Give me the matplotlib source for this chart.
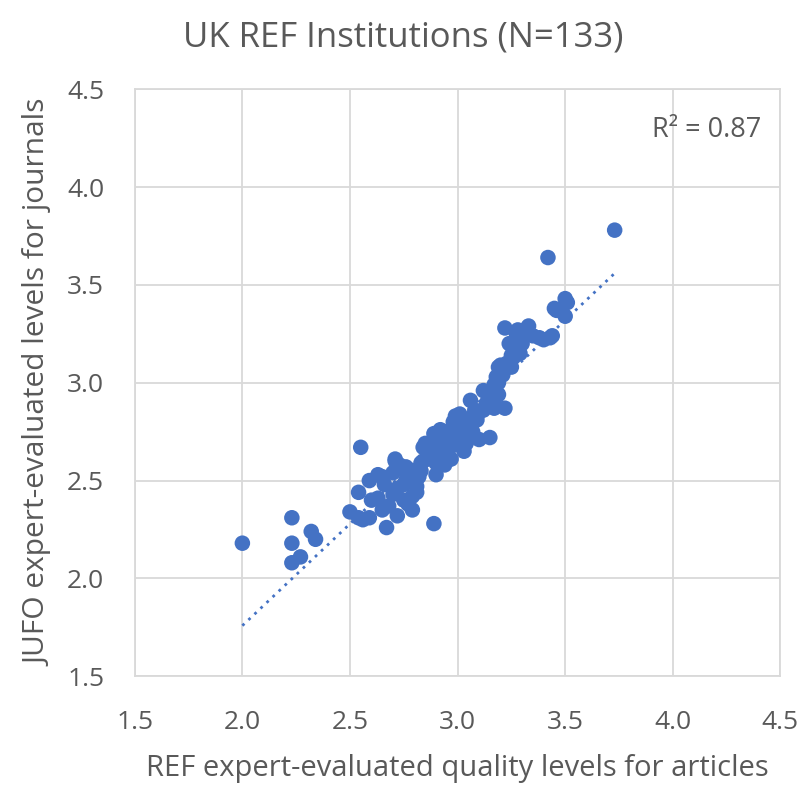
#!/usr/bin/env python3
"""Scatter of REF vs JUFO expert-evaluated levels for UK institutions."""

import numpy as np
import matplotlib
matplotlib.use("Agg")
import matplotlib.pyplot as plt

# REF expert-evaluated quality levels for articles
ref_levels = [
    2.00, 2.23, 2.23, 2.23, 2.27, 2.32, 2.34, 2.55, 2.54, 2.50,
    2.54, 2.56, 2.59, 2.59, 2.63, 2.65, 2.67, 2.65, 2.70, 2.71,
    2.73, 2.72, 2.68, 2.72, 2.77, 2.79, 2.76, 2.81, 2.79, 2.83,
    2.84, 2.87, 2.90, 2.89, 2.93, 2.89, 2.71, 2.76, 2.78, 2.81,
    2.81, 2.83, 2.85, 2.90, 2.91, 2.92, 2.95, 2.97, 2.97, 3.00,
    2.99, 3.02, 3.06, 3.04, 3.07, 3.10, 3.09, 3.12, 3.15, 3.17,
    3.19, 3.17, 3.22, 3.21, 3.19, 3.23, 3.25, 3.28, 3.22, 3.28,
    3.33, 3.35, 3.38, 3.43, 3.42, 3.45, 3.50, 3.50, 3.73, 3.01,
    2.98, 3.06, 2.95, 3.03, 2.92, 2.98, 2.85, 2.89, 2.95, 3.03,
    2.86, 3.15, 3.19, 3.21, 3.24, 3.17, 3.27, 3.46, 3.51, 3.30,
    3.29, 3.26, 3.25, 3.21, 3.20, 3.18, 3.14, 3.09, 3.06, 3.04,
    2.94, 2.96, 2.74, 2.78, 2.82, 3.40, 3.44, 2.63, 2.66, 2.70,
    2.75, 2.80, 2.84, 2.90, 2.93, 2.60, 2.75, 3.12, 3.24, 3.27,
    3.31, 3.13, 3.08,
]

# JUFO expert-evaluated levels for journals
jufo_levels = [
    2.18, 2.31, 2.18, 2.08, 2.11, 2.24, 2.20, 2.67, 2.44, 2.34,
    2.31, 2.30, 2.31, 2.50, 2.41, 2.35, 2.26, 2.52, 2.54, 2.61,
    2.58, 2.46, 2.37, 2.32, 2.38, 2.35, 2.50, 2.47, 2.42, 2.55,
    2.67, 2.62, 2.53, 2.74, 2.72, 2.28, 2.60, 2.57, 2.50, 2.44,
    2.51, 2.59, 2.67, 2.59, 2.71, 2.76, 2.67, 2.61, 2.74, 2.71,
    2.83, 2.78, 2.91, 2.81, 2.75, 2.71, 2.83, 2.86, 2.72, 2.87,
    2.94, 2.99, 2.87, 3.04, 3.08, 3.10, 3.14, 3.19, 3.28, 3.27,
    3.29, 3.24, 3.23, 3.23, 3.64, 3.38, 3.43, 3.34, 3.78, 2.84,
    2.80, 2.78, 2.75, 2.72, 2.71, 2.68, 2.69, 2.65, 2.64, 2.65,
    2.61, 2.95, 3.00, 3.05, 3.09, 2.90, 3.26, 3.37, 3.41, 3.20,
    3.15, 3.13, 3.08, 3.06, 3.09, 3.03, 2.91, 2.81, 2.77, 2.69,
    2.58, 2.61, 2.56, 2.55, 2.52, 3.22, 3.24, 2.53, 2.48, 2.43,
    2.48, 2.55, 2.60, 2.64, 2.69, 2.40, 2.40, 2.96, 3.20, 3.22,
    3.27, 2.88, 2.86,
]

tick_values = [1.5, 2.0, 2.5, 3.0, 3.5, 4.0, 4.5]
r_squared = 0.87

BLUE = "#4472C4"
TEXT = "#595959"
GRID = "#D9D9D9"

plt.rcParams['font.family'] = ['Open Sans', 'DejaVu Sans']

x = np.array(ref_levels)
y = np.array(jufo_levels)

fig = plt.figure(figsize=(8.07, 7.90), dpi=100)
ax = fig.add_axes([0.167, 0.144, 0.80, 0.743])

ax.scatter(x, y, s=125, color=BLUE, edgecolors='none', zorder=3)

# linear trendline over the data range
slope, intercept = np.polyfit(x, y, 1)
xs = np.array([x.min(), x.max()])
ax.plot(xs, slope * xs + intercept, color=BLUE, linestyle=(0, (1, 2)),
        linewidth=2, zorder=2)

ax.set_xlim(1.5, 4.5)
ax.set_ylim(1.5, 4.5)
ax.set_xticks(tick_values)
ax.set_yticks(tick_values)
ax.set_xticklabels(["{:.1f}".format(v) for v in tick_values])
ax.set_yticklabels(["{:.1f}".format(v) for v in tick_values])
ax.grid(True, color=GRID, linewidth=1.3, zorder=0)
ax.set_axisbelow(True)
for sp in ax.spines.values():
    sp.set_color(GRID)
    sp.set_linewidth(1.3)
ax.tick_params(axis='x', length=0, labelsize=19, labelcolor=TEXT, pad=24)
ax.tick_params(axis='y', length=0, labelsize=19, labelcolor=TEXT, pad=22)

ax.set_xlabel("REF expert-evaluated quality levels for articles",
              fontsize=21, color=TEXT, labelpad=14)
ax.set_ylabel("JUFO expert-evaluated levels for journals",
              fontsize=21.5, color=TEXT, labelpad=10)

ax.text(0.97, 0.93, "R² = {:.2f}".format(r_squared),
        transform=ax.transAxes, ha='right', va='center', fontsize=19.5, color=TEXT)

fig.text(0.5, 0.952, "UK REF Institutions (N=133)", ha='center', va='center',
         fontsize=25, color=TEXT)

fig.savefig("out.png", dpi=100)
